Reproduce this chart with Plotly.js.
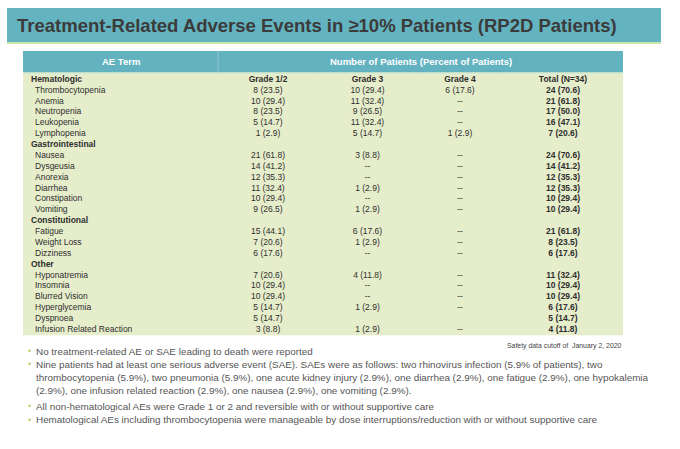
<!DOCTYPE html>
<html>
<head>
<meta charset="utf-8">
<script src="https://cdn.plot.ly/plotly-3.0.1.min.js"></script>
<style>html,body{margin:0;padding:0;background:#fff;}#chart{width:680px;height:449px;}</style>
</head>
<body>
<div id="chart"></div>
<script>
// ---- data ----
const groups = ['Hematologic', 'Gastrointestinal', 'Constitutional', 'Other'];
const terms = [
  ['Thrombocytopenia', 'Anemia', 'Neutropenia', 'Leukopenia', 'Lymphopenia'],
  ['Nausea', 'Dysgeusia', 'Anorexia', 'Diarrhea', 'Constipation', 'Vomiting'],
  ['Fatigue', 'Weight Loss', 'Dizziness'],
  ['Hyponatremia', 'Insomnia', 'Blurred Vision', 'Hyperglycemia', 'Dyspnoea', 'Infusion Related Reaction']
];
const grade12 = [
  ['8 (23.5)', '10 (29.4)', '8 (23.5)', '5 (14.7)', '1 (2.9)'],
  ['21 (61.8)', '14 (41.2)', '12 (35.3)', '11 (32.4)', '10 (29.4)', '9 (26.5)'],
  ['15 (44.1)', '7 (20.6)', '6 (17.6)'],
  ['7 (20.6)', '10 (29.4)', '10 (29.4)', '5 (14.7)', '5 (14.7)', '3 (8.8)']
];
const grade3 = [
  ['10 (29.4)', '11 (32.4)', '9 (26.5)', '11 (32.4)', '5 (14.7)'],
  ['3 (8.8)', '--', '--', '1 (2.9)', '--', '1 (2.9)'],
  ['6 (17.6)', '1 (2.9)', '--'],
  ['4 (11.8)', '--', '--', '1 (2.9)', '', '1 (2.9)']
];
const grade4 = [
  ['6 (17.6)', '--', '--', '--', '1 (2.9)'],
  ['--', '--', '--', '--', '--', '--'],
  ['--', '--', '--'],
  ['--', '--', '--', '--', '', '--']
];
const total = [
  ['24 (70.6)', '21 (61.8)', '17 (50.0)', '16 (47.1)', '7 (20.6)'],
  ['24 (70.6)', '14 (41.2)', '12 (35.3)', '12 (35.3)', '10 (29.4)', '10 (29.4)'],
  ['21 (61.8)', '8 (23.5)', '6 (17.6)'],
  ['11 (32.4)', '10 (29.4)', '10 (29.4)', '6 (17.6)', '5 (14.7)', '4 (11.8)']
];
const gradeLabels = ['Grade 1/2', 'Grade 3', 'Grade 4', 'Total (N=34)'];
const headerLabels = ['AE Term', 'Number of Patients (Percent of Patients)'];
const titleText = 'Treatment-Related Adverse Events in \u226510% Patients (RP2D Patients)';
const cutoffText = 'Safety data cutoff of  January 2, 2020';
const notes = [
  'No treatment-related AE or SAE leading to death were reported',
  'Nine patients had at least one serious adverse event (SAE). SAEs were as follows: two rhinovirus infection (5.9% of patients), two<br>thrombocytopenia (5.9%), two pneumonia (5.9%), one acute kidney injury (2.9%), one diarrhea (2.9%), one fatigue (2.9%), one hypokalemia<br>(2.9%), one infusion related reaction (2.9%), one nausea (2.9%), one vomiting (2.9%).',
  'All non-hematological AEs were Grade 1 or 2 and reversible with or without supportive care',
  'Hematological AEs including thrombocytopenia were manageable by dose interruptions/reduction with or without supportive care'
];

// ---- styles / layout constants ----
const W = 680, H = 449;
const TEAL = '#63b2bf', LIGHT = '#dceff2', TXT = '#2e2e2e', GRID = '#e6edcb';
const FONT = 'Liberation Sans, Arial, sans-serif';
const px = v => v / W, py = v => 1 - v / H;
const TAB_L = 23, TAB_R = 623, HEAD_T = 51, HEAD_B = 72.5, BODY_T = 73, BODY_B = 334, TXT_SHIFT = 1.3;
const colEdges = [0, 195, 295, 394, 480, 600];
const colCenters = colEdges.slice(0, -1).map((e, i) => (e + colEdges[i + 1]) / 2);
const GROUP_X = 8, TERM_X = 12, FS = 8.5;

// ---- build rows ----
const z = [];
const grpX = [], grpY = [], grpT = [];
const trmX = [], trmY = [], trmT = [];
const valX = [], valY = [], valT = [];
const totX = [], totY = [], totT = [];
let r = 0;
groups.forEach((g, gi) => {
  z.push([1, 1, 1, 1, 1]);
  grpX.push(GROUP_X); grpY.push(r); grpT.push(g);
  r++;
  terms[gi].forEach((t, ti) => {
    z.push([1, 0, 0, 0, 0]);
    trmX.push(TERM_X); trmY.push(r); trmT.push(t);
    [grade12, grade3, grade4].forEach((arr, ci) => {
      valX.push(colCenters[ci + 1]); valY.push(r); valT.push(arr[gi][ti]);
    });
    totX.push(colCenters[4]); totY.push(r); totT.push(total[gi][ti]);
    r++;
  });
});
const nRows = r;
const rowIdx = Array.from({length: nRows}, (_, i) => i);

const txtBase = {type: 'scatter', mode: 'text', hoverinfo: 'skip', cliponaxis: false, showlegend: false, yaxis: 'y2'};
const traces = [
  {type: 'heatmap', x: colEdges, y: rowIdx, z: z, zmin: 0, zmax: 1,
   colorscale: [[0, '#ffffff'], [1, LIGHT]], showscale: false, xgap: 1, ygap: 1, hoverinfo: 'skip'},
  Object.assign({}, txtBase, {x: grpX, y: grpY, text: grpT, textposition: 'middle right',
    textfont: {family: FONT, size: FS, color: TXT, weight: 700}}),
  Object.assign({}, txtBase, {x: trmX, y: trmY, text: trmT, textposition: 'middle right',
    textfont: {family: FONT, size: FS, color: TXT}}),
  Object.assign({}, txtBase, {x: colCenters.slice(1), y: gradeLabels.map(() => 0), text: gradeLabels, textposition: 'middle center',
    textfont: {family: FONT, size: FS, color: TXT, weight: 700}}),
  Object.assign({}, txtBase, {x: valX, y: valY, text: valT, textposition: 'middle center',
    textfont: {family: FONT, size: FS, color: TXT}}),
  Object.assign({}, txtBase, {x: totX, y: totY, text: totT, textposition: 'middle center',
    textfont: {family: FONT, size: FS, color: TXT, weight: 700}})
];

// ---- annotations ----
const annotations = [
  {text: '<b>' + headerLabels[0] + '</b>', xref: 'paper', yref: 'paper', x: px(TAB_L + colEdges[1] / 2), y: py((HEAD_T + HEAD_B) / 2),
   xanchor: 'center', yanchor: 'middle', showarrow: false, font: {family: FONT, size: 9.5, color: '#ffffff'}},
  {text: '<b>' + headerLabels[1] + '</b>', xref: 'paper', yref: 'paper', x: px(TAB_L + (colEdges[1] + colEdges[5]) / 2), y: py((HEAD_T + HEAD_B) / 2),
   xanchor: 'center', yanchor: 'middle', showarrow: false, font: {family: FONT, size: 9.5, color: '#ffffff'}},
  {text: cutoffText, xref: 'paper', yref: 'paper', x: px(624), y: py(346), xanchor: 'right', yanchor: 'middle',
   showarrow: false, font: {family: FONT, size: 6.9, color: '#444'}}
];
const noteCenters = [351, 377.5, 406, 419.5];
const bulletY = [351, 364, 406, 419.5];
notes.forEach((n, i) => {
  annotations.push({text: n, xref: 'paper', yref: 'paper', x: px(34), y: py(noteCenters[i]), xanchor: 'left', yanchor: 'middle',
    align: 'left', showarrow: false, font: {family: FONT, size: 9.9, color: '#555555'}});
  annotations.push({text: '\u2022', xref: 'paper', yref: 'paper', x: px(29), y: py(bulletY[i]), xanchor: 'center', yanchor: 'middle',
    showarrow: false, font: {family: FONT, size: 9, color: '#bcd46e'}});
});

const layout = {
  width: W, height: H,
  margin: {l: 0, r: 0, t: 0, b: 0},
  paper_bgcolor: '#ffffff', plot_bgcolor: GRID,
  showlegend: false,
  xaxis: {domain: [px(TAB_L), px(TAB_R)], range: [colEdges[0], colEdges[5]], visible: false, fixedrange: true},
  yaxis: {domain: [py(BODY_B), py(BODY_T)], range: [nRows - 0.5, -0.5], visible: false, fixedrange: true},
  yaxis2: {domain: [py(BODY_B + TXT_SHIFT), py(BODY_T + TXT_SHIFT)], range: [nRows - 0.5, -0.5], visible: false, fixedrange: true, anchor: 'x'},
  title: {text: '<b>' + titleText + '</b>', x: px(17), xanchor: 'left', xref: 'paper', y: py(25.5), yref: 'paper', yanchor: 'middle',
    font: {family: FONT, size: 18.5, color: '#3b3b3b'}},
  shapes: [
    {type: 'rect', xref: 'paper', yref: 'paper', x0: px(7), x1: px(661), y0: py(42), y1: py(8), fillcolor: '#64b3c0', line: {width: 0}, layer: 'below'},
    {type: 'line', xref: 'paper', yref: 'paper', x0: px(7), x1: px(661), y0: py(43), y1: py(43), line: {color: '#b9dd90', width: 1.5}},
    {type: 'rect', xref: 'paper', yref: 'paper', x0: px(TAB_L), x1: px(TAB_R), y0: py(HEAD_B), y1: py(HEAD_T), fillcolor: TEAL, line: {width: 0}, layer: 'below'},
    {type: 'line', xref: 'paper', yref: 'paper', x0: px(TAB_L + colEdges[1]), x1: px(TAB_L + colEdges[1]), y0: py(HEAD_B), y1: py(HEAD_T), line: {color: '#93c9d2', width: 1}},
    {type: 'line', xref: 'paper', yref: 'paper', x0: px(TAB_L), x1: px(TAB_R), y0: py(HEAD_B + 0.5), y1: py(HEAD_B + 0.5), line: {color: '#cfe6b0', width: 1}}
  ],
  annotations: annotations
};

Plotly.newPlot('chart', traces, layout, {displayModeBar: false, staticPlot: true});
</script>
</body>
</html>
